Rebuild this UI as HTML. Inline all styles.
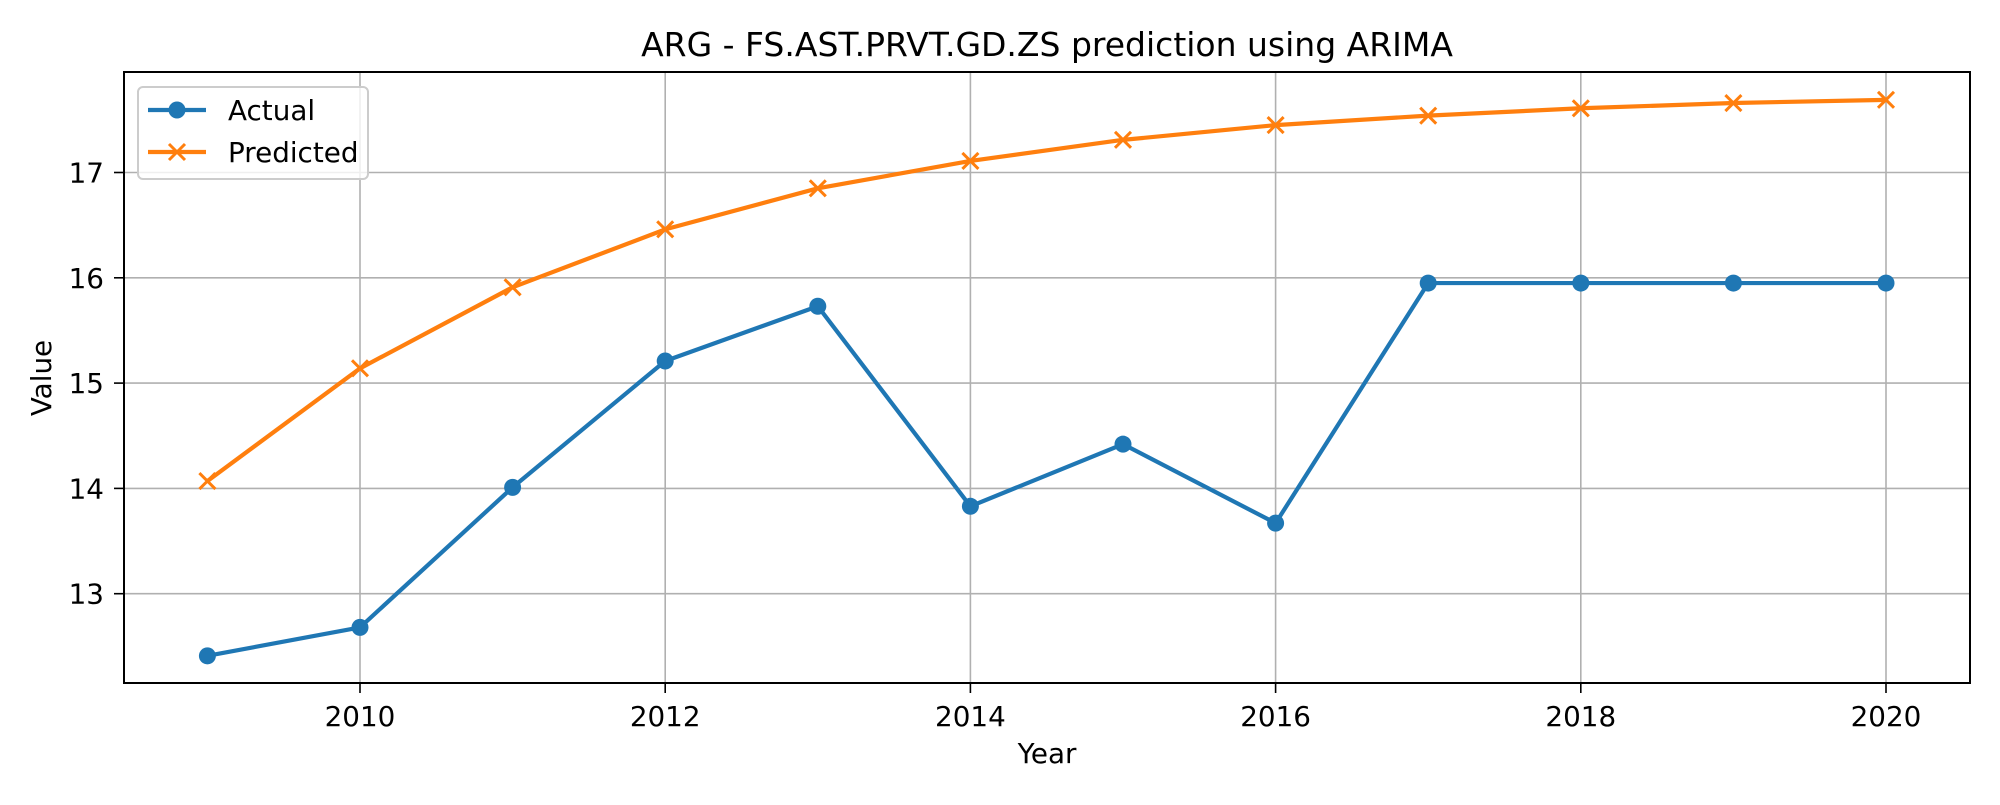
<!DOCTYPE html>
<html><head><meta charset="utf-8"><style>
body{margin:0;background:#fff;}
svg text{font-family:"DejaVu Sans","Liberation Sans",sans-serif;fill:#000;}
</style></head><body>
<svg id="chart" width="2000" height="800" xmlns="http://www.w3.org/2000/svg">
<text x="1047" y="56" font-size="33" text-anchor="middle">ARG - FS.AST.PRVT.GD.ZS prediction using ARIMA</text>
<g id="grid"></g><g id="ticks"></g><g id="series"></g>
<rect x="124" y="72" width="1846" height="611" fill="none" stroke="#000" stroke-width="2"/>
<text x="1047" y="763" font-size="27.8" text-anchor="middle">Year</text>
<text x="51" y="378" font-size="27.8" text-anchor="middle" transform="rotate(-90 51 378)">Value</text>
<g>
<rect x="138" y="87" width="230" height="92" rx="5" fill="#fff" fill-opacity="0.8" stroke="#ccc" stroke-width="2"/>
<line x1="148" y1="110" x2="206" y2="110" stroke="#1f77b4" stroke-width="4.2"/>
<circle cx="177" cy="110" r="8.5" fill="#1f77b4"/>
<text x="228" y="120" font-size="27.8">Actual</text>
<line x1="148" y1="152" x2="206" y2="152" stroke="#ff7f0e" stroke-width="4.2"/>
<path d="M169 144 L185 160 M185 144 L169 160" stroke="#ff7f0e" stroke-width="3"/>
<text x="228" y="162" font-size="27.8">Predicted</text>
</g>
</svg>
<script>
const years=[2009,2010,2011,2012,2013,2014,2015,2016,2017,2018,2019,2020];
const actual=[12.41,12.68,14.01,15.21,15.73,13.83,14.42,13.67,15.95,15.95,15.95,15.95];
const predicted=[14.07,15.14,15.91,16.46,16.85,17.11,17.31,17.45,17.54,17.61,17.66,17.69];
const xTicks=[2010,2012,2014,2016,2018,2020];
const yTicks=[13,14,15,16,17];
const NS='http://www.w3.org/2000/svg';
const X=v=>360+(v-2010)*152.6;
const Y=v=>593.7-(v-13)*105.3;
function mk(tag,attrs,parent){const e=document.createElementNS(NS,tag);for(const k in attrs)e.setAttribute(k,attrs[k]);parent.appendChild(e);return e;}
const grid=document.getElementById('grid'),ticks=document.getElementById('ticks'),ser=document.getElementById('series');
xTicks.forEach(t=>{
 const g=mk('line',{x1:X(t),x2:X(t),y1:72,y2:683,stroke:'#b0b0b0','stroke-width':1.6},grid);
 
 
 mk('line',{x1:X(t),x2:X(t),y1:683,y2:693,stroke:'#000','stroke-width':1.6},ticks);
 const tx=mk('text',{x:X(t),y:726,'font-size':27.8,'text-anchor':'middle'},ticks);tx.textContent=t;
 
 
});
yTicks.forEach(t=>{
 const g=mk('line',{x1:124,x2:1970,y1:Y(t),y2:Y(t),stroke:'#b0b0b0','stroke-width':1.6},grid);
 
 
 mk('line',{x1:114,x2:124,y1:Y(t),y2:Y(t),stroke:'#000','stroke-width':1.6},ticks);
 const tx=mk('text',{x:104,y:Y(t)+10,'font-size':27.8,'text-anchor':'end'},ticks);tx.textContent=t;
 
 
});
const pl=mk('polyline',{points:actual.map((v,i)=>X(years[i])+','+Y(v)).join(' '),fill:'none',stroke:'#1f77b4','stroke-width':4.2},ser);


const pp=mk('polyline',{points:predicted.map((v,i)=>X(years[i])+','+Y(v)).join(' '),fill:'none',stroke:'#ff7f0e','stroke-width':4.2},ser);


actual.forEach((v,i)=>{const c=mk('circle',{cx:X(years[i]),cy:Y(v),r:8.5,fill:'#1f77b4'},ser);
 
 });
predicted.forEach((v,i)=>{const x=X(years[i]),y=Y(v);
 const p=mk('path',{d:`M${x-8} ${y-8}L${x+8} ${y+8}M${x+8} ${y-8}L${x-8} ${y+8}`,stroke:'#ff7f0e','stroke-width':3},ser);
 
 });
</script>
</body></html>
